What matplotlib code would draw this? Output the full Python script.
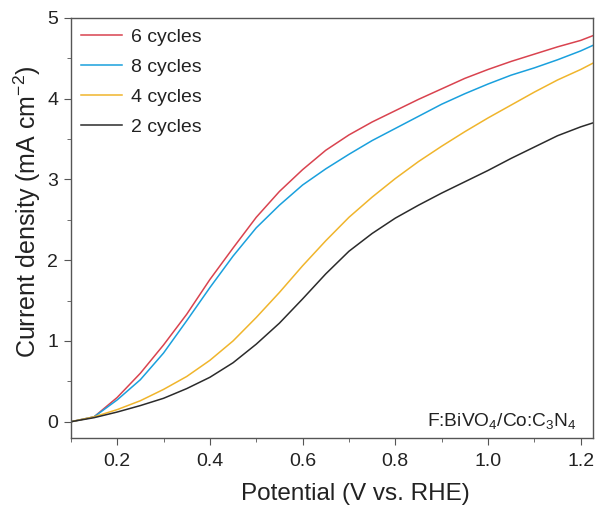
import matplotlib
matplotlib.use("Agg")
import matplotlib.pyplot as plt
from matplotlib.ticker import MultipleLocator

plt.rcParams["font.family"] = ["Liberation Sans", "DejaVu Sans"]
plt.rcParams["mathtext.default"] = "regular"

potential = [0.10, 0.15, 0.20, 0.25, 0.30, 0.35, 0.40, 0.45, 0.50, 0.55, 0.60, 0.65,
             0.70, 0.75, 0.80, 0.85, 0.90, 0.95, 1.00, 1.05, 1.10, 1.15, 1.20, 1.227]

j_6 = [0.00, 0.06, 0.30, 0.60, 0.95, 1.33, 1.76, 2.15, 2.53, 2.85, 3.12, 3.36,
       3.55, 3.71, 3.85, 3.99, 4.12, 4.25, 4.36, 4.46, 4.55, 4.64, 4.72, 4.78]
j_8 = [0.00, 0.06, 0.27, 0.52, 0.85, 1.25, 1.66, 2.05, 2.40, 2.68, 2.93, 3.13,
       3.31, 3.48, 3.63, 3.78, 3.93, 4.06, 4.18, 4.29, 4.38, 4.48, 4.59, 4.66]
j_4 = [0.00, 0.06, 0.15, 0.26, 0.40, 0.56, 0.76, 1.00, 1.29, 1.60, 1.93, 2.24,
       2.53, 2.78, 3.01, 3.22, 3.41, 3.59, 3.76, 3.92, 4.08, 4.23, 4.36, 4.44]
j_2 = [0.00, 0.05, 0.12, 0.20, 0.29, 0.41, 0.55, 0.73, 0.96, 1.22, 1.52, 1.83,
       2.11, 2.33, 2.52, 2.68, 2.83, 2.97, 3.11, 3.26, 3.40, 3.54, 3.65, 3.70]

series = [
    ("6 cycles", j_6, "#d9434f"),
    ("8 cycles", j_8, "#1aa0dd"),
    ("4 cycles", j_4, "#f0b52c"),
    ("2 cycles", j_2, "#2b2b2b"),
]

fig = plt.figure(figsize=(5.95, 5.08), dpi=100)
ax = fig.add_axes([0.119, 0.138, 0.878, 0.827])

for label, vals, color in series:
    ax.plot(potential, vals, color=color, lw=1.1, label=label)

ax.set_xlim(0.1, 1.227)
ax.set_ylim(-0.2, 5)
ax.xaxis.set_major_locator(MultipleLocator(0.2))
ax.xaxis.set_minor_locator(MultipleLocator(0.1))
ax.yaxis.set_major_locator(MultipleLocator(1))
ax.yaxis.set_minor_locator(MultipleLocator(0.5))
ax.xaxis.set_major_formatter(matplotlib.ticker.FormatStrFormatter("%.1f"))

for s in ax.spines.values():
    s.set_color("#555555")
    s.set_linewidth(1.0)
ax.tick_params(which="both", direction="out", colors="#555555", labelcolor="#222222",
               top=False, right=False)
ax.tick_params(which="major", length=5, labelsize=14)
ax.tick_params(axis="x", which="major", pad=6)
ax.tick_params(axis="y", which="major", pad=4)
ax.tick_params(which="minor", length=3)

ax.set_xlabel("Potential (V vs. RHE)", fontsize=17.5, color="#222222")
ax.xaxis.set_label_coords(0.544, -0.107)
ax.set_ylabel("Current density (mA cm$^{-2}$)", fontsize=18, color="#222222")
ax.yaxis.set_label_coords(-0.053, 0.538)

ax.text(0.969, 0.04, "F:BiVO$_4$/Co:C$_3$N$_4$", transform=ax.transAxes,
        ha="right", va="center", fontsize=13.8, color="#222222")

leg = ax.legend(loc="upper left", frameon=False, fontsize=14, handlelength=2.1,
                labelspacing=0.64, borderaxespad=0.15, handletextpad=0.45)
for t in leg.get_texts():
    t.set_color("#222222")

fig.savefig("out.png", dpi=100)
